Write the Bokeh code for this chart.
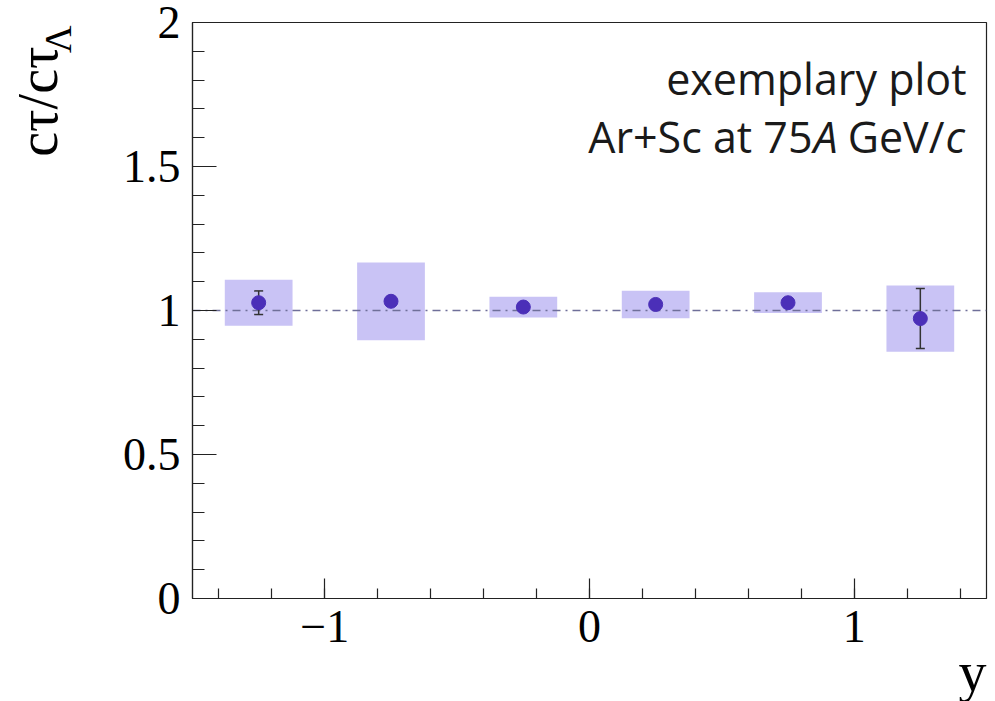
from bokeh.plotting import figure
from bokeh.models import ColumnDataSource, Range1d, FixedTicker, Label, Title
from bokeh.embed import file_html
from bokeh.resources import INLINE

# Lifetime ratio per rapidity bin
rapidity = [-1.25, -0.75, -0.25, 0.25, 0.75, 1.25]
ratio = [1.027, 1.032, 1.012, 1.021, 1.027, 0.972]
stat_err = [0.041, 0.012, 0.010, 0.010, 0.010, 0.104]
sys_err = [0.080, 0.135, 0.036, 0.048, 0.036, 0.115]

y_ticks = [0, 0.5, 1, 1.5, 2]
y_tick_labels = ["0", "0.5", "1", "1.5", "2"]
x_ticks = [-1, 0, 1]
x_tick_labels = ["\u22121", "0", "1"]

src = ColumnDataSource(dict(
    x=rapidity,
    r=ratio,
    lo=[r - e for r, e in zip(ratio, stat_err)],
    hi=[r + e for r, e in zip(ratio, stat_err)],
    sys_h=[2 * s for s in sys_err],
))

W, H = 995, 701
FL, FR, FT, FB = 192, 986, 22, 598  # frame edges on the canvas

p = figure(width=W, height=H, output_backend="svg", toolbar_location=None,
           x_range=Range1d(-1.5, 1.5), y_range=Range1d(0, 2))
p.min_border_left = FL
p.min_border_right = W - FR
p.min_border_top = FT
p.min_border_bottom = H - FB
p.xgrid.visible = False
p.ygrid.visible = False
p.outline_line_color = "#222222"
p.outline_line_width = 1.2
p.background_fill_color = "white"
p.border_fill_color = "white"

# axes: inward ticks, serif labels
p.yaxis.ticker = FixedTicker(ticks=y_ticks,
                             minor_ticks=[i / 10 for i in range(0, 21)])
p.yaxis.major_label_overrides = {t: s for t, s in zip(y_ticks, y_tick_labels)}
p.xaxis.ticker = FixedTicker(ticks=x_ticks,
                             minor_ticks=[round(-1.4 + 0.2 * i, 1) for i in range(15)])
p.xaxis.major_label_overrides = {t: s for t, s in zip(x_ticks, x_tick_labels)}
for ax in (p.xaxis, p.yaxis):
    ax.axis_line_color = "#222222"
    ax.axis_line_width = 1.2
    ax.major_tick_line_color = "#222222"
    ax.minor_tick_line_color = "#222222"
    ax.major_tick_line_width = 1.2
    ax.minor_tick_line_width = 1.2
    ax.major_tick_out = 0
    ax.minor_tick_out = 0
    ax.major_label_text_font = "Liberation Serif"
    ax.major_label_text_font_size = "46px"
    ax.major_label_text_color = "black"
p.yaxis.major_tick_in = 24
p.yaxis.minor_tick_in = 12
p.xaxis.major_tick_in = 20
p.xaxis.minor_tick_in = 10
p.yaxis.major_label_standoff = 12
p.xaxis.major_label_standoff = 12

# systematic boxes
p.rect(x="x", y="r", width=0.256, height="sys_h", source=src,
       fill_color="#c9c3f5", line_color=None)
# reference line at unity
p.hspan(y=[1.0], line_color="#6f6f99", line_width=1.5, line_dash="8 5 2 5")
# statistical error bars
p.segment(x0="x", y0="lo", x1="x", y1="hi", source=src,
          line_color="#333333", line_width=1.5)
p.scatter(x="x", y="hi", source=src, marker="dash", size=9,
          line_color="#333333", line_width=1.5)
p.scatter(x="x", y="lo", source=src, marker="dash", size=9,
          line_color="#333333", line_width=1.5)
# data points
p.scatter(x="x", y="r", source=src, size=14,
          fill_color="#4b2fb8", line_color="#4b2fb8")


def sx(cx):
    return cx - FL


def sy(cy):
    return FB - cy


def add_label(text, cx, cy, size, style="normal", align="left"):
    p.add_layout(Label(x=sx(cx), y=sy(cy), x_units="screen", y_units="screen",
                       text=text, text_font="Open Sans", text_font_size=size,
                       text_font_style=style, text_align=align,
                       text_baseline="alphabetic", text_color="#1a1a1a"))


# caption inside the frame
add_label("exemplary plot", 966, 78, "43px", align="right")
add_label("Ar+Sc at 75", 812, 136, "43px", align="right")
add_label("A", 813, 136, "43px", style="italic")
add_label("GeV/", 944, 136, "43px", align="right")
add_label("c", 945, 136, "43px", style="italic")


def side_title(text, size, align, valign, offset, standoff):
    return Title(text=text, align=align, vertical_align=valign,
                 offset=offset, standoff=standoff,
                 text_font="Liberation Serif", text_font_size=size,
                 text_font_style="normal", text_color="black")


# y-axis title: spacer band, subscript, main text
p.add_layout(side_title(" ", "10px", "right", "bottom", 0, 28), "left")
p.add_layout(side_title("\u039b", "38px", "right", "bottom", 3, 0), "left")
p.add_layout(side_title("c\u03c4/c\u03c4", "56px", "right", "bottom", 24, -68), "left")

# x-axis title
p.add_layout(side_title("y", "56px", "right", "bottom", 0, -12), "below")

open("out.html", "w").write(file_html(p, INLINE))
